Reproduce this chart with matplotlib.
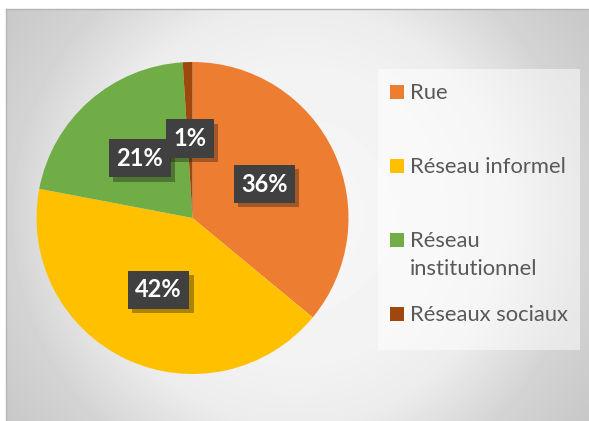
import numpy as np
import matplotlib
matplotlib.use('Agg')
import matplotlib.pyplot as plt
import matplotlib.patheffects as pe
from matplotlib.patches import Rectangle
from matplotlib.lines import Line2D

labels = ['Rue', 'Réseau informel', 'Réseau\ninstitutionnel', 'Réseaux sociaux']
values = [36, 42, 21, 1]
pct_labels = ['36%', '42%', '21%', '1%']
colors = ['#ED7D31', '#FFC000', '#70AD47', '#9E480E']

W, H = 589, 421
fig = plt.figure(figsize=(W / 100, H / 100), dpi=100)

# radial gray background of the chart area
bg = fig.add_axes([6 / W, 0, (W - 6) / W, (H - 9) / H])
yy, xx = np.mgrid[0:412, 0:583]
d = np.hypot(xx - 290, yy - 206)
shade = np.interp(d, [0, 150, 210, 285, 360], [0.97, 0.95, 0.925, 0.83, 0.78])
bg.imshow(shade, cmap='gray', vmin=0, vmax=1, aspect='auto', interpolation='bilinear')
bg.set_axis_off()
fig.add_artist(Line2D([6 / W, 6 / W], [0, (H - 9) / H], transform=fig.transFigure, color='#b4b4b4', lw=1))
fig.add_artist(Line2D([6 / W, 1], [(H - 9) / H, (H - 9) / H], transform=fig.transFigure, color='#b4b4b4', lw=1))

# pie
ax = fig.add_axes([36.5 / W, (H - 218 - 156) / H, 312 / W, 312 / H])
ax.pie(values, colors=colors, startangle=90, counterclock=False, radius=1)
ax.set_xlim(-1, 1)
ax.set_ylim(-1, 1)

total = float(sum(values))
start = np.cumsum([0] + values[:-1])
for i, (v, s0, t) in enumerate(zip(values, start, pct_labels)):
    ang = np.deg2rad(90 - (s0 + v / 2) / total * 360)
    x, y = 0.51 * np.cos(ang), 0.51 * np.sin(ang)
    txt = ax.text(x, y, t, color='white', fontsize=17, fontweight='bold', family='Lato',
                  ha='center', va='center', zorder=10 + i,
                  bbox=dict(boxstyle='square,pad=0.32', fc='#404040', ec='none'))
    txt.get_bbox_patch().set_path_effects([pe.SimplePatchShadow(offset=(3, -3), alpha=0.35),
                                           pe.Normal()])

# legend
fig.add_artist(Rectangle((378 / W, (H - 350) / H), 202 / W, 281 / H, transform=fig.transFigure,
                         fc='white', ec='none', alpha=0.5))
item_y = [92, 166, 240, 314]
for lab, col, yc in zip(labels, colors, item_y):
    fig.add_artist(Rectangle((390 / W, (H - yc - 7) / H), 14 / W, 14 / H,
                             transform=fig.transFigure, fc=col, ec='none'))
    for j, line in enumerate(lab.split('\n')):
        fig.text(410 / W, (H - (yc + 7 + j * 28)) / H, line, family='Lato', fontsize=15.8,
                 color='#595959', ha='left', va='baseline')

fig.savefig('out.png', dpi=100)
